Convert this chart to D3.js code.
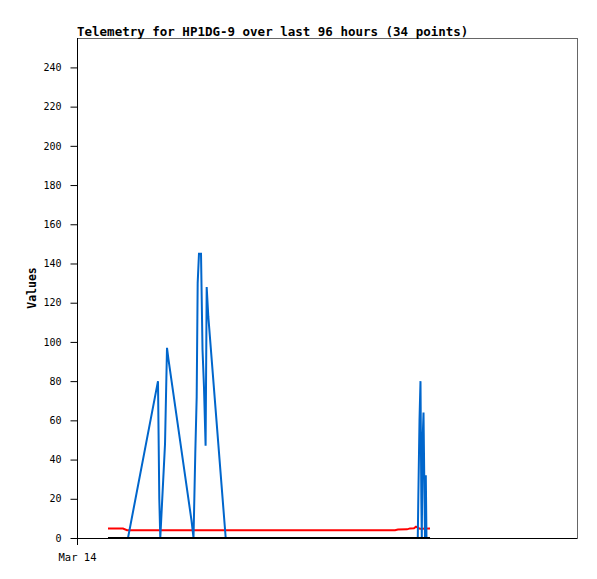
<!DOCTYPE html>
<html><head><meta charset="utf-8">
<script src="https://cdn.jsdelivr.net/npm/d3@7"></script>
<style>body{margin:0;background:#fff}</style>
</head><body>
<svg id="c" width="597" height="579"></svg>
<script>
const title = "Telemetry for HP1DG-9 over last 96 hours (34 points)";
const yLabel = "Values";
const startTime = "2024-03-14T00:00:00";
const spanHours = 96;
const yTicks = [0,20,40,60,80,100,120,140,160,180,200,220,240];
const yMax = 255;

// hours after start
const blueHours = [5.95,9.79,15.55,15.80,15.99,16.90,17.28,17.57,21.98,22.37,22.71,22.98,23.17,23.42,23.81,24.10,24.38,24.69,24.90,25.21,28.55,65.43,65.53,65.76,65.95,66.11,66.20,66.34,66.53,66.72,66.82,66.97,67.10,67.78];
const blueValues = [0,0,80,20,0,48,97,91,9,0,43,72,130,145,145,96,77,47,128,113,0,0,20,60,80,20,0,48,64,20,0,32,0,0];

const redHours = [5.95,8.83,9.60,61.06,61.63,63.36,63.94,64.70,65.09,65.86,67.78];
const redValues = [4.8,4.8,4.0,4.0,4.3,4.4,4.9,5.0,5.8,4.7,4.8];

const blackHours = [5.95,67.78];
const blackValues = [0,0];

const svg = d3.select("#c");
const m = {l:77, t:38, w:500, h:500};
const t0 = new Date(startTime);
const toDate = h => new Date(t0.getTime() + h*3600e3);
const x = d3.scaleTime().domain([t0, toDate(spanHours)]).range([m.l, m.l+m.w]);
const y = d3.scaleLinear().domain([0, yMax]).range([m.t+m.h, m.t]);

// frame
svg.append("rect").attr("x", m.l+0.5).attr("y", m.t+0.5).attr("width", m.w).attr("height", m.h)
  .attr("fill","none").attr("stroke","#666");

const line = d3.line().x(d=>x(toDate(d[0]))).y(d=>y(d[1]));
function draw(hs, vs, color){
  svg.append("path").datum(hs.map((h,i)=>[h, vs[i]]))
    .attr("d", line).attr("fill","none").attr("stroke", color).attr("stroke-width", 2);
}
draw(redHours, redValues, "#ff0000");
draw(blueHours, blueValues, "#0066cc");
draw(blackHours, blackValues, "#000000");

// y axis
const ya = svg.append("g").attr("transform", `translate(${m.l+0.5},0)`)
  .call(d3.axisLeft(y).tickValues(yTicks).tickSize(7).tickPadding(9));
ya.select(".domain").attr("d", `M0,${m.t}V${m.t+m.h+7}`);
ya.selectAll("text").attr("font-family","DejaVu Sans Mono").attr("font-size","10px").attr("fill","#000");

// x axis
const xa = svg.append("g").attr("transform", `translate(0,${m.t+m.h+0.5})`)
  .call(d3.axisBottom(x).tickValues([t0]).tickFormat(d3.timeFormat("%b %d")).tickSize(0).tickPadding(15));
xa.select(".domain").attr("d", `M${m.l},0H${m.l+m.w}`);
xa.selectAll("text").attr("font-family","DejaVu Sans Mono").attr("font-size","10.5px").attr("fill","#000");

svg.append("text").attr("x", m.l).attr("y", 35.5).text(title)
  .attr("font-family","DejaVu Sans Mono").attr("font-weight","bold").attr("font-size","12.5px");
svg.append("text").attr("transform", `translate(36,${(m.t+m.h+m.t)/2}) rotate(-90)`)
  .attr("text-anchor","middle").text(yLabel)
  .attr("font-family","DejaVu Sans Mono").attr("font-weight","bold").attr("font-size","11.5px");
</script>
</body></html>
